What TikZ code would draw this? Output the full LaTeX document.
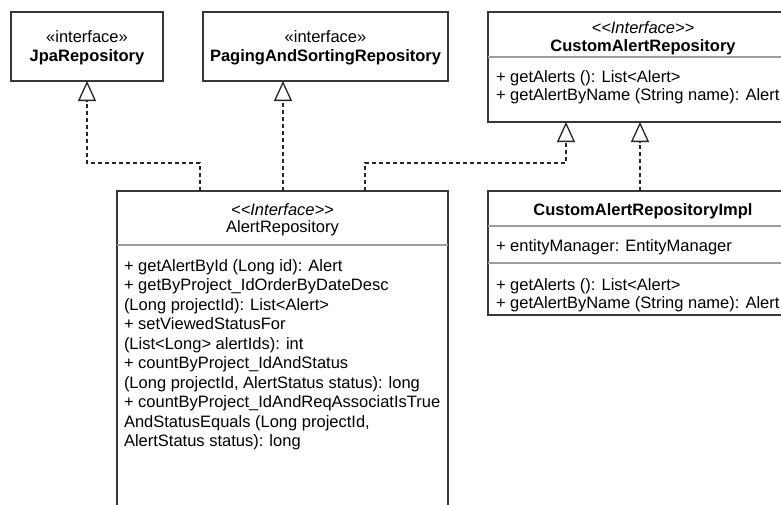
\documentclass[tikz,border=0pt]{standalone}
\usepackage{fontspec}
\setmainfont{Liberation Sans}[Ligatures=TeXOff]
\usetikzlibrary{arrows.meta,calc}

\tikzset{
  umlbox/.style={draw=black!78, line width=1.4pt, fill=white, rectangle,
    inner sep=0pt, outer sep=0pt, anchor=north west},
  divider/.style={draw=black!38, line width=1.6pt},
  txt/.style={inner sep=0pt, outer sep=0pt, font=\fontsize{16.5}{19}\selectfont},
  title/.style={txt, anchor=base},
  member/.style={txt, anchor=base west},
  realize/.style={draw=black!85, line width=1.3pt, dash pattern=on 4pt off 3pt,
    -{Triangle[open, width=18pt, length=20pt, line width=1.3pt]}},
}

\begin{document}
\begin{tikzpicture}[x=1pt, y=-1pt]
  \useasboundingbox (0,0) rectangle (781,504);
  \fill[white] (0,0) rectangle (781,504);
  \clip (0,0) rectangle (781,504);

  % interface boxes at the top
  \node[umlbox, minimum width=152pt, minimum height=69pt] (jpa) at (11,12) {};
  \node[title] (jpa-st) at (87,42) {«interface»};
  \node[title] (jpa-nm) at (87,61) {\bfseries JpaRepository};

  \node[umlbox, minimum width=245pt, minimum height=69pt] (paging) at (203,12) {};
  \node[title] (pag-st) at (325.5,42) {«interface»};
  \node[title] (pag-nm) at (325.5,61) {\bfseries PagingAndSortingRepository};

  % CustomAlertRepository
  \node[umlbox, minimum width=310pt, minimum height=110pt] (car) at (488,12) {};
  \draw[divider] (car.west |- 0,57) -- (car.east |- 0,57);
  \node[title] (car-st) at (643,33) {\itshape <<Interface>>};
  \node[title] (car-nm) at (643,51) {\bfseries CustomAlertRepository};
  \node[member] (car-m1) at (496,82) {+ getAlerts (): List<Alert>};
  \node[member] (car-m2) at (496,100) {+ getAlertByName (String name): Alert};

  % CustomAlertRepositoryImpl
  \node[umlbox, minimum width=310pt, minimum height=124pt] (impl) at (488,191) {};
  \draw[divider] (impl.west |- 0,226) -- (impl.east |- 0,226);
  \draw[divider] (impl.west |- 0,263) -- (impl.east |- 0,263);
  \node[title] (impl-nm) at (643,215) {\bfseries CustomAlertRepositoryImpl};
  \node[member] (impl-a1) at (496,251) {+ entityManager: EntityManager};
  \node[member] (impl-m1) at (496,290) {+ getAlerts (): List<Alert>};
  \node[member] (impl-m2) at (496,308) {+ getAlertByName (String name): Alert};

  % AlertRepository
  \node[umlbox, minimum width=331pt, minimum height=340pt] (ar) at (117,191) {};
  \draw[divider] (ar.west |- 0,245) -- (ar.east |- 0,245);
  \node[title] (ar-st) at (282.5,215) {\itshape <<Interface>>};
  \node[title] (ar-nm) at (282.5,232) {AlertRepository};
  \foreach \line [count=\i from 0] in {
      {+ getAlertById (Long id): Alert},
      {+ getByProject\_IdOrderByDateDesc},
      {(Long projectId): List<Alert>},
      {+ setViewedStatusFor},
      {(List<Long> alertIds): int},
      {+ countByProject\_IdAndStatus},
      {(Long projectId, AlertStatus status): long},
      {+ countByProject\_IdAndReqAssociatIsTrue},
      {AndStatusEquals (Long projectId,},
      {AlertStatus status): long}}
    \node[member] (ar-m\i) at (124,271+19.5*\i) {\line};

  % realization connectors
  \coordinate (arJ) at ($(ar.north west)+(83,0)$);
  \coordinate (arP) at ($(ar.north west)+(166,0)$);
  \coordinate (arC) at ($(ar.north west)+(248,0)$);
  \coordinate (carA) at ($(car.south west)+(78,0)$);
  \coordinate (carB) at ($(car.south west)+(152,0)$);
  \coordinate (implB) at ($(impl.north west)+(152,0)$);

  \draw[realize] (arJ) -- ++(0,-28) -| (jpa.south);
  \draw[realize] (arP) -- (arP |- paging.south);
  \draw[realize] (arC) -- ++(0,-28) -| (carA);
  \draw[realize] (implB) -- (carB);
\end{tikzpicture}
\end{document}
